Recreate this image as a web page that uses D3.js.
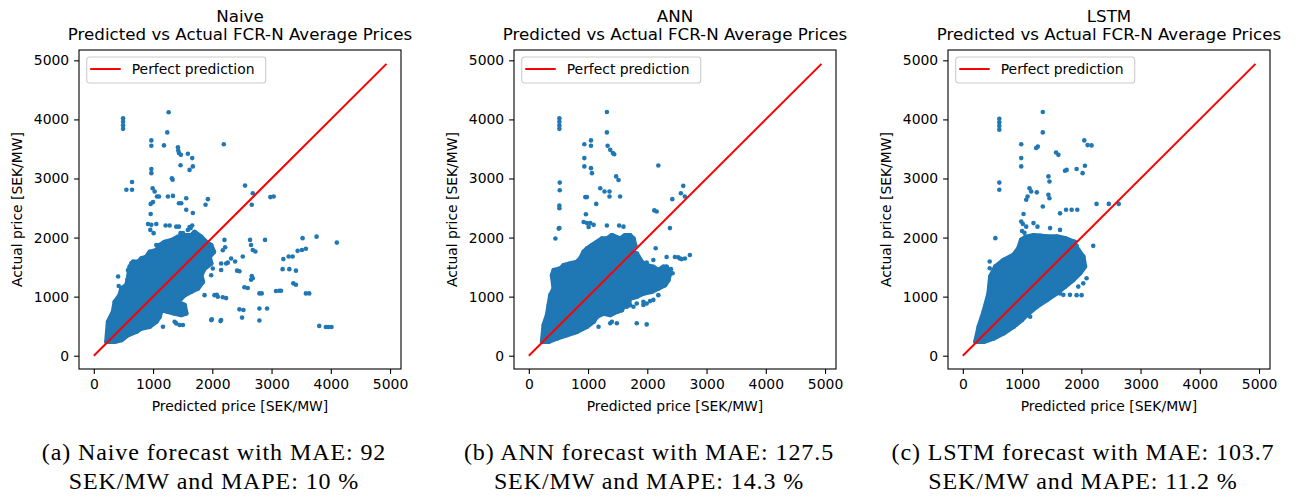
<html>
<head>
<meta charset="utf-8">
<title>FCR-N price forecasts</title>
<script src="https://cdn.jsdelivr.net/npm/d3@7"></script>
<style>
  body {
    margin: 0;
    background: #fff;
  }
  text {
    font-family: 'DejaVu Sans', sans-serif;
    fill: #000;
  }
  .caption {
    font-family: 'Liberation Serif', 'Times New Roman', serif;
  }
</style>
</head>
<body>
<div id="chart"></div>
<script>
  // data: [predicted, actual] in SEK/MW
  const models = ["Naive", "ANN", "LSTM"]
  const captions = [
    ["(a) Naive forecast with MAE: 92", "SEK/MW and MAPE: 10 %"],
    ["(b) ANN forecast with MAE: 127.5", "SEK/MW and MAPE: 14.3 %"],
    ["(c) LSTM forecast with MAE: 103.7", "SEK/MW and MAPE: 11.2 %"]
  ]
  const tickValues = [0, 1000, 2000, 3000, 4000, 5000]
  const perfectLine = [0, 4940]

  // outline of the dense cloud of points
  const naiveCore = [[213,237],[241,575],[325,743],[354,912],[438,1025],[466,1138],[550,1194],[578,1307],[606,1504],[662,1588],[746,1588],[802,1645],[887,1673],[943,1757],[1055,1785],[1111,1870],[1195,1926],[1308,1954],[1420,2011],[1532,2039],[1644,2039],[1700,2095],[1813,2011],[1897,1926],[1981,1870],[2026,1757],[1953,1673],[1981,1560],[1869,1476],[1813,1363],[1841,1250],[1756,1138],[1644,1082],[1532,1025],[1420,913],[1532,856],[1560,716],[1476,688],[1364,716],[1251,744],[1139,772],[1111,659],[1055,575],[943,490],[802,462],[718,406],[578,350],[466,265],[354,237]]
  const annCore = [[225,237],[253,519],[309,688],[337,856],[365,1025],[421,1138],[393,1363],[421,1448],[533,1476],[589,1532],[701,1560],[813,1588],[869,1645],[925,1757],[981,1814],[1065,1870],[1149,1926],[1233,1983],[1318,1983],[1402,2039],[1542,1983],[1626,2039],[1710,2039],[1766,1983],[1794,1870],[1710,1785],[1822,1729],[1906,1588],[1990,1532],[2102,1504],[2186,1448],[2270,1504],[2326,1504],[2382,1391],[2354,1279],[2298,1194],[2186,1138],[2074,1082],[1934,1054],[1822,997],[1710,969],[1682,856],[1598,828],[1570,772],[1486,744],[1374,688],[1261,716],[1149,659],[1093,575],[981,490],[813,406],[645,350],[477,293],[337,237]]
  const lstmCore = [[213,237],[270,492],[353,746],[437,1056],[465,1339],[549,1508],[689,1621],[857,1706],[941,1820],[985,1960],[1060,2010],[1193,2040],[1305,2030],[1417,2017],[1585,2017],[1725,1989],[1865,1932],[1949,1791],[2033,1678],[2061,1508],[1977,1395],[1865,1282],[1725,1169],[1585,1056],[1417,943],[1249,830],[1110,717],[997,605],[857,492],[689,379],[521,294],[353,237]]

  // points lying outside the dense cloud
  const naivePts = [[1263,4120],[494,4020],[494,3960],[494,3900],[494,3840],[1240,3780],[971,3645],[971,3555],[1184,3560],[1420,3530],[1425,3475],[1437,3430],[1470,3400],[2194,3580],[1588,3420],[1661,3345],[1464,3225],[1672,3205],[1616,3145],[971,3160],[971,3090],[1318,3005],[1330,2980],[645,2940],[550,2810],[645,2810],[2553,2880],[993,2835],[1027,2780],[1066,2695],[1100,2695],[1251,2695],[1336,2705],[1437,2580],[1476,2580],[1560,2665],[1925,2650],[1886,2555],[2683,2750],[2980,2685],[3036,2695],[2666,2555],[960,2570],[1000,2600],[1560,2470],[1672,2415],[960,2400],[915,2230],[971,2215],[1055,2230],[954,2130],[1010,2075],[1212,2205],[1280,2205],[1588,2130],[1661,2205],[1635,2160],[1616,2179],[1122,1875],[1251,1905],[1392,2185],[1437,2185],[1464,2075],[1504,2075],
    [2205,1960],[2217,1835],[2177,1785],[2149,1561],[2233,1561],[2318,1645],[2009,1476],[1981,1363],[1869,1025],[2037,1025],[2093,997],[1981,603],[2138,586],[1364,574],[1392,547],[1167,490],
    [2637,1960],[2654,1875],[2683,1790],[2727,1765],[2890,1960],[3524,1990],[3760,2015],[4102,1915],[2514,1680],[2385,1595],[2262,1575],[2149,1450],[2419,1440],[2458,1430],[3199,1635],[3289,1680],[3356,1680],[3440,1775],[3513,1790],[3580,1810],[3187,1465],[3300,1465],[3412,1440],[2666,1350],[2683,1310],[2654,1285],[2542,1160],[2598,1145],[2795,1055],[2834,1055],[3075,1095],[3132,1100],[3160,1100],[3367,1225],[3412,1200],[3580,1055],[3636,1055],[2076,1030],[2177,990],[2233,975],[2458,785],[2525,775],[2795,800],[2924,800],[2502,645],[2795,595],[1992,615],[2149,605],[1448,520],[1504,520],[3805,505],[3917,485],[3960,485],[4012,485],
    [410,1340],[420,1180],[567,1285],[578,1448],[634,1532],[634,1565],[763,1450],[943,1680],[971,1620],[1055,1875]]
  const annPts = [[1318,4125],[516,4020],[516,3960],[516,3900],[516,3840],[1318,3780],[937,3580],[1049,3645],[1049,3555],[1330,3555],[1374,3485],[1419,3430],[1441,3410],[937,3345],[937,3205],[1049,3175],[1066,3090],[2186,3220],[1474,3035],[1514,2975],[522,2930],[522,2800],[1206,2835],[1278,2780],[1362,2780],[1362,2695],[1541,2695],[516,2540],[516,2495],[953,2685],[981,2685],[1138,2570],[2607,2875],[2567,2750],[2422,2650],[2634,2695],[2118,2460],[2158,2440],[516,2160],[505,2152],[449,1983],[925,2264],[964,2395],[981,2245],[1009,2180],[1038,2245],[1094,2215],[1318,2205],[1525,2205],[1598,2185],[2382,2160],[2141,1820],[2578,1635],[2718,1705],[2522,1665],[2466,1672],[2551,1645],[2635,1645],[2399,1465],[2427,1395],[2326,1672],[1990,1575],[2102,1620],[2074,1419],[2158,1363],[2130,1279],[2186,1025],[1711,856],[1822,884],[1934,912],[2046,924],[1990,885],[1822,550],[1990,530],[1177,490],[1402,575],[1374,550],[1486,550],[421,1400],[421,1307],[1654,830],[1766,830],[1934,860],[2102,945]]
  const lstmPts = [[1350,4125],[616,4010],[616,3950],[616,3890],[616,3825],[1350,3780],[986,3580],[1238,3515],[1266,3540],[1574,3440],[1613,3400],[986,3345],[986,3205],[2050,3645],[2106,3565],[2173,3560],[1753,3145],[1725,3130],[1921,3160],[2061,3215],[2022,3090],[1445,3035],[1462,2950],[616,2930],[616,2810],[1126,2835],[1154,2780],[1249,2765],[1445,2725],[1462,2665],[1093,2695],[1070,2640],[1350,2525],[1641,2410],[1742,2470],[1837,2470],[1932,2470],[2257,2570],[2464,2570],[2632,2570],[1025,2400],[986,2270],[1014,2230],[1070,2185],[1000,2110],[1040,2080],[1193,2245],[1260,2185],[1473,2160],[1641,2130],[549,1990],[1893,1930],[1921,1860],[2201,1860],[454,1595],[454,1480],[661,1595],[633,1280],[605,1225],[420,860],[437,775],[1081,690],[1137,660],[1641,1055],[1697,1030],[1809,1030],[1921,1025],[2005,1025],[1949,1170],[2033,1225],[2089,1310]]

  const cores = [naiveCore, annCore, lstmCore]
  const points = [naivePts, annPts, lstmPts]

  const W = 1299, H = 497
  const axLeft = [79, 514, 948]
  const axTop = 50, axW = 322, axH = 319
  const blue = "#1f77b4"
  const dotR = 2.3

  const svg = d3.select("#chart").append("svg")
    .attr("width", W).attr("height", H)

  const x = d3.scaleLinear().domain([-250, 5185]).range([0, axW])
  const y = d3.scaleLinear().domain([-225, 5175]).range([axH, 0])

  const hull = d3.line().x(d => x(d[0])).y(d => y(d[1])).curve(d3.curveLinearClosed)

  models.forEach((m, i) => {
    const g = svg.append("g").attr("transform", `translate(${axLeft[i]},${axTop})`)

    // scatter: dense cloud outline plus single points
    g.append("path").attr("d", hull(cores[i]))
      .attr("fill", blue).attr("stroke", blue)
      .attr("stroke-width", dotR * 2).attr("stroke-linejoin", "round")
    g.selectAll("circle.c").data(cores[i]).join("circle").attr("class", "c")
      .attr("cx", d => x(d[0])).attr("cy", d => y(d[1])).attr("r", dotR).attr("fill", blue)
    g.selectAll("circle.p").data(points[i]).join("circle").attr("class", "p")
      .attr("cx", d => x(d[0])).attr("cy", d => y(d[1])).attr("r", dotR).attr("fill", blue)

    // perfect prediction line
    g.append("line")
      .attr("x1", x(perfectLine[0])).attr("y1", y(perfectLine[0]))
      .attr("x2", x(perfectLine[1])).attr("y2", y(perfectLine[1]))
      .attr("stroke", "red").attr("stroke-width", 2)

    // axes
    const ax = g.append("g").attr("transform", `translate(0,${axH})`)
      .call(d3.axisBottom(x).tickValues(tickValues).tickFormat(d3.format("d"))
        .tickSize(4.9).tickPadding(5.5))
    const ay = g.append("g")
      .call(d3.axisLeft(y).tickValues(tickValues).tickFormat(d3.format("d"))
        .tickSize(4.9).tickPadding(4.9))
    ;[ax, ay].forEach(a => {
      a.select(".domain").remove()
      a.selectAll("line").attr("stroke", "#000").attr("stroke-width", 1.1)
      a.selectAll("text").attr("font-size", 13.9).attr("fill", "#000")
        .attr("font-family", "'DejaVu Sans', sans-serif")
    })

    g.append("rect").attr("width", axW).attr("height", axH)
      .attr("fill", "none").attr("stroke", "#000").attr("stroke-width", 1.1)

    // legend
    const lg = g.append("g").attr("transform", "translate(7.7,7)")
    lg.append("rect").attr("width", 179).attr("height", 26).attr("rx", 2.8)
      .attr("fill", "#fff").attr("fill-opacity", 0.8)
      .attr("stroke", "#ccc").attr("stroke-width", 1.1)
    lg.append("line").attr("x1", 3.5).attr("x2", 34).attr("y1", 12).attr("y2", 12)
      .attr("stroke", "red").attr("stroke-width", 2)
    lg.append("text").attr("x", 45).attr("y", 17).attr("font-size", 13.9).text("Perfect prediction")

    // titles and labels
    g.append("text").attr("x", axW / 2).attr("y", -28).attr("text-anchor", "middle")
      .attr("font-size", 16.7).text(m)
    g.append("text").attr("x", axW / 2).attr("y", -10.5).attr("text-anchor", "middle")
      .attr("font-size", 16.7).text("Predicted vs Actual FCR-N Average Prices")
    g.append("text").attr("x", axW / 2).attr("y", axH + 42).attr("text-anchor", "middle")
      .attr("font-size", 13.9).text("Predicted price [SEK/MW]")
    g.append("text").attr("transform", `translate(-57,${axH / 2}) rotate(-90)`)
      .attr("text-anchor", "middle").attr("font-size", 13.9).text("Actual price [SEK/MW]")

    // sub-figure caption
    captions[i].forEach((c, k) => {
      g.append("text").attr("class", "caption")
        .attr("x", 135).attr("y", 410 + k * 29.3)
        .attr("text-anchor", "middle").attr("font-size", 24)
        .attr("letter-spacing", 0.9)
        .text(c)
    })
  })
</script>
</body>
</html>
